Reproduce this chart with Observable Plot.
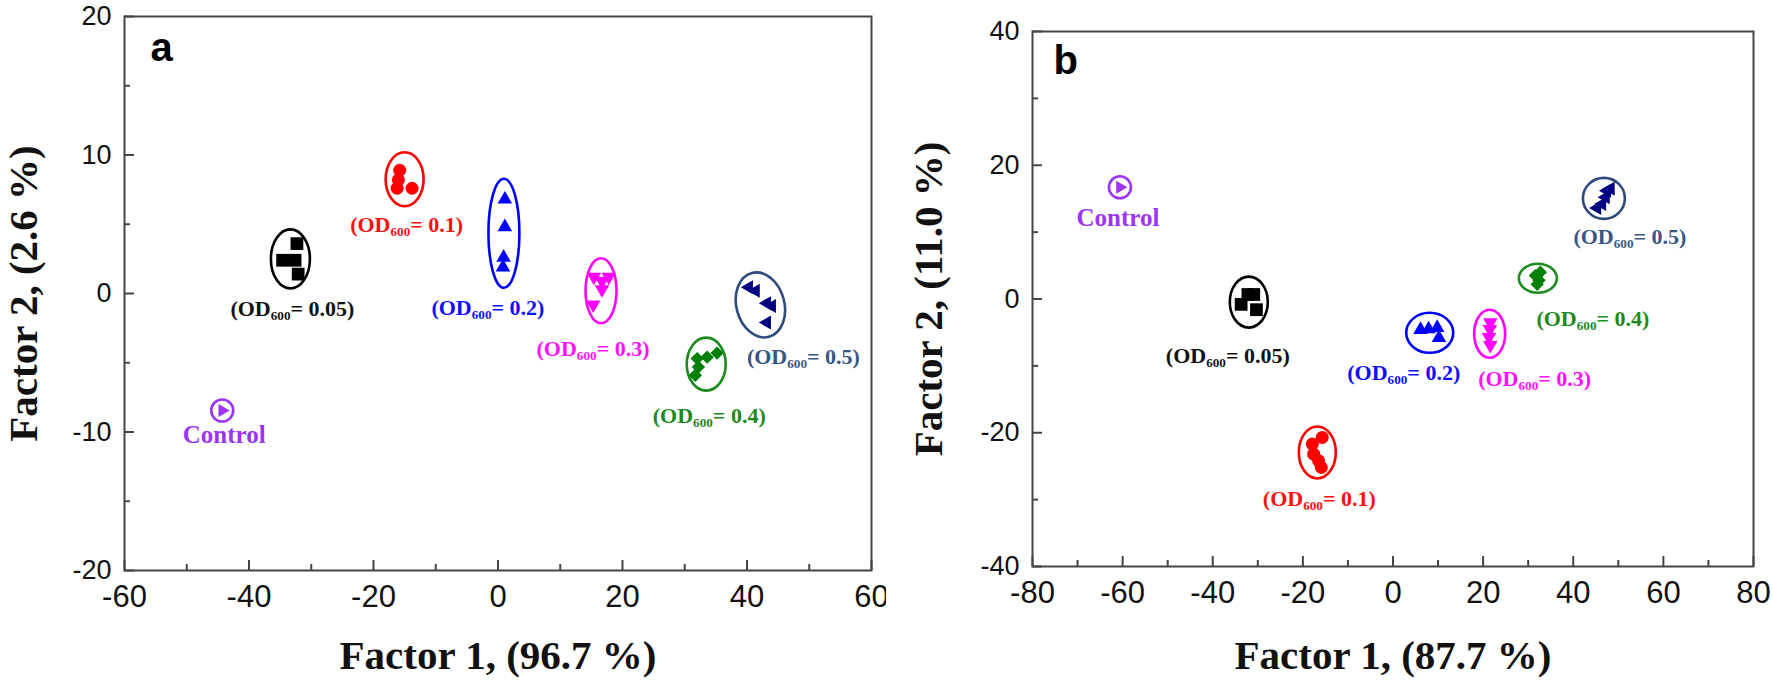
<!DOCTYPE html>
<html><head><meta charset="utf-8">
<script src="https://cdn.jsdelivr.net/npm/d3@7"></script>
<script src="https://cdn.jsdelivr.net/npm/@observablehq/plot@0.6"></script>
<style>
html,body{margin:0;padding:0;background:#fff;}
#wrap{display:flex;width:1772px;height:688px;overflow:hidden;}
#wrap svg{overflow:visible;background:#fff;}
</style></head><body><div id="wrap"></div>
<script>
// ---------- DATA ----------
const GROUPS = ["Control", "0.05", "0.1", "0.2", "0.3", "0.4", "0.5"];
const GROUP_LABELS = ["Control", "(OD₆₀₀= 0.05)", "(OD₆₀₀= 0.1)", "(OD₆₀₀= 0.2)", "(OD₆₀₀= 0.3)", "(OD₆₀₀= 0.4)", "(OD₆₀₀= 0.5)"];

// Panel a (Factor 1 96.7 %, Factor 2 2.6 %)
const A_CONTROL_F1 = [-44.3];
const A_CONTROL_F2 = [-8.45];
const A_OD005_F1 = [-32.3, -34.6, -32.6, -32.1];
const A_OD005_F2 = [3.6, 2.4, 2.4, 1.4];
const A_OD01_F1 = [-15.8, -16.0, -16.2, -13.8];
const A_OD01_F2 = [8.9, 8.2, 7.6, 7.6];
const A_OD02_F1 = [1.1, 1.1, 0.9, 0.8];
const A_OD02_F2 = [6.8, 4.8, 2.6, 1.9];
const A_OD03_F1 = [15.4, 16.7, 17.8, 16.7, 15.3];
const A_OD03_F2 = [1.2, 0.9, 1.2, 0.3, -0.8];
const A_OD04_F1 = [32.0, 33.6, 35.2, 32.2, 31.7];
const A_OD04_F2 = [-4.7, -4.6, -4.3, -5.3, -5.9];
const A_OD05_F1 = [40.3, 41.4, 43.2, 44.0, 43.2];
const A_OD05_F2 = [0.45, 0.2, -0.7, -0.9, -2.1];

// Panel b (Factor 1 87.7 %, Factor 2 11.0 %)
const B_CONTROL_F1 = [-60.6];
const B_CONTROL_F2 = [16.7];
const B_OD005_F1 = [-32.2, -30.9, -33.7, -30.3];
const B_OD005_F2 = [0.67, 0.67, -0.8, -1.6];
const B_OD01_F1 = [-15.7, -17.9, -17.6, -16.5, -15.9];
const B_OD01_F2 = [-20.7, -21.7, -23.2, -24.2, -25.2];
const B_OD02_F1 = [6.1, 7.9, 9.8, 10.2];
const B_OD02_F2 = [-4.6, -4.5, -4.3, -5.8];
const B_OD03_F1 = [21.6, 21.5, 21.3, 21.6];
const B_OD03_F2 = [-3.5, -4.5, -5.7, -6.9];
const B_OD04_F1 = [31.6, 32.4, 32.0, 32.7];
const B_OD04_F2 = [3.5, 2.8, 2.2, 4.0];
const B_OD05_F1 = [47.5, 47.2, 46.4, 45.3, 48.3];
const B_OD05_F2 = [16.2, 15.2, 14.2, 13.6, 16.5];

// Axis ticks
const A_X_TICKS = [-60, -40, -20, 0, 20, 40, 60];
const A_X_MINOR = [-50, -30, -10, 10, 30, 50];
const A_Y_TICKS = [-20, -10, 0, 10, 20];
const A_Y_MINOR = [-15, -5, 5, 15];
const B_X_TICKS = [-80, -60, -40, -20, 0, 20, 40, 60, 80];
const B_X_MINOR = [-70, -50, -30, -10, 10, 30, 50, 70];
const B_Y_TICKS = [-40, -20, 0, 20, 40];
const B_Y_MINOR = [-30, -10, 10, 30];

// ---------- STYLE ----------
const MARKER_COLORS = ["#9b35f7", "#000000", "#ff0000", "#0000ff", "#ff00ff", "#008000", "#000080"];
const RING_COLORS   = ["#9b35f7", "#000000", "#ff0000", "#0000ff", "#ff00ff", "#1c8a1c", "#2f4a7c"];
const LABEL_COLORS  = ["#9b35f7", "#111111", "#ff1010", "#1010ff", "#ff10ff", "#1c8a1c", "#3a5683"];

function triangle(angle) {
  return {draw(ctx, size) {
    const s = Math.sqrt(size * 4 / Math.sqrt(3)), R = s / Math.sqrt(3);
    for (let k = 0; k < 3; k++) {
      const a = angle + k * 2 * Math.PI / 3;
      const px = R * Math.cos(a), py = R * Math.sin(a);
      if (k) ctx.lineTo(px, py); else ctx.moveTo(px, py);
    }
    ctx.closePath();
  }};
}
function ring(rx, ry, deg) {
  const t = deg * Math.PI / 180, c = Math.cos(t), s = Math.sin(t), k = 0.5523;
  const P = (x, y) => [x * c - y * s, x * s + y * c];
  return {draw(ctx) {
    ctx.moveTo(...P(rx, 0));
    const segs = [
      [[rx, k * ry], [k * rx, ry], [0, ry]],
      [[-k * rx, ry], [-rx, k * ry], [-rx, 0]],
      [[-rx, -k * ry], [-k * rx, -ry], [0, -ry]],
      [[k * rx, -ry], [rx, -k * ry], [rx, 0]]
    ];
    for (const sg of segs) ctx.bezierCurveTo(...P(...sg[0]), ...P(...sg[1]), ...P(...sg[2]));
    ctx.closePath();
  }};
}
const SYMBOLS = [triangle(0), "square", "circle", triangle(-Math.PI / 2), triangle(Math.PI / 2), "diamond2", triangle(Math.PI)];
const SYMBOL_R = [4.8, 7.2, 6.5, 5.4, 5.4, 6, 5.2];

// ring [rx, ry, rotation] and label offsets [dx, dy] (pixels)
const A_RINGS = [[11, 11, 0], [19.5, 29.5, 0], [19, 27, 0], [15.5, 54.5, 0], [15.5, 32.5, 0], [19.5, 26.5, 0], [24, 33, -15]];
const A_LABEL_OFF = [[2, 24], [2, 50], [2, 46], [-16, 75], [-8, 58], [3, 52], [43, 52]];
const B_RINGS = [[11, 11, 0], [19, 25.5, 0], [18.5, 26, 0], [23.5, 20, 0], [15.5, 24, 0], [19, 14.5, 0], [21, 20.5, 0]];
const B_LABEL_OFF = [[-2, 31], [-21, 54], [2, 46], [-26, 40], [45, 45], [55, 41], [26, 39]];

const AXIS_COLOR = "#454545";
const SERIF = "'Liberation Serif', 'Times New Roman', serif";
const SANS = "'Liberation Sans', Arial, sans-serif";
const fmt = d => String(d);

function buildPanel(cfg) {
  const {f1, f2, rings, labelOff, xDomain, yDomain, xTicks, xMinor, yTicks, yMinor,
         width, height, ml, mr, mt, mb, xTitle, yTitle, letter, yTitleDx, xTitleDy, letterDx, letterDy} = cfg;
  const fw = width - ml - mr, fh = height - mt - mb;
  const marks = [
    Plot.frame({stroke: AXIS_COLOR, strokeWidth: 2}),
    Plot.tickX(xMinor, {x: d => d, insetTop: fh - 6, stroke: AXIS_COLOR, strokeWidth: 2}),
    Plot.tickX(xTicks, {x: d => d, insetTop: fh - 10, stroke: AXIS_COLOR, strokeWidth: 2}),
    Plot.tickY(yMinor, {y: d => d, insetRight: fw - 6, stroke: AXIS_COLOR, strokeWidth: 2}),
    Plot.tickY(yTicks, {y: d => d, insetRight: fw - 10, stroke: AXIS_COLOR, strokeWidth: 2}),
    Plot.axisX(xTicks, {anchor: "bottom", tickSize: 0, tickPadding: 14, tickFormat: fmt, fontSize: 31, fontFamily: SANS, fill: "#111", label: null}),
    Plot.axisY(yTicks, {anchor: "left", tickSize: 0, tickPadding: 13, tickFormat: fmt, fontSize: 27, fontFamily: SANS, fill: "#111", label: null}),
    Plot.text([xTitle], {frameAnchor: "bottom", dy: xTitleDy, fontSize: 41, fontFamily: SERIF, fontWeight: "bold", fill: "#111", textAnchor: "middle", lineAnchor: "middle"}),
    Plot.text([yTitle], {frameAnchor: "left", dx: yTitleDx, rotate: -90, fontSize: 41, fontFamily: SERIF, fontWeight: "bold", fill: "#111", textAnchor: "middle", lineAnchor: "middle"}),
    Plot.text([letter], {frameAnchor: "top-left", dx: letterDx, dy: letterDy, fontSize: 40, fontFamily: SANS, fontWeight: "bold", fill: "#000", textAnchor: "start", lineAnchor: "bottom"})
  ];
  GROUPS.forEach((g, i) => {
    const pts = f1[i].map((x, j) => ({x, y: f2[i][j]}));
    const cx = (d3.min(f1[i]) + d3.max(f1[i])) / 2, cy = (d3.min(f2[i]) + d3.max(f2[i])) / 2;
    const center = [{x: cx, y: cy}];
    const [rx, ry, rot] = rings[i];
    marks.push(Plot.dot(center, {x: "x", y: "y", symbol: ring(rx, ry, rot), fill: "none", stroke: RING_COLORS[i], strokeWidth: 2.6}));
    marks.push(Plot.dot(pts, {x: "x", y: "y", symbol: SYMBOLS[i], r: SYMBOL_R[i], fill: MARKER_COLORS[i], stroke: "none"}));
    marks.push(Plot.text([GROUP_LABELS[i]], {x: () => cx, y: () => cy, dx: labelOff[i][0], dy: labelOff[i][1],
      fontSize: i === 0 ? 25 : 22, fontFamily: SERIF, fontWeight: "bold", fill: LABEL_COLORS[i], textAnchor: "middle", lineAnchor: "middle"}));
  });
  return Plot.plot({
    width, height, marginLeft: ml, marginRight: mr, marginTop: mt, marginBottom: mb,
    x: {domain: xDomain, axis: null},
    y: {domain: yDomain, axis: null},
    style: {background: "#fff", overflow: "visible"},
    marks
  });
}

const wrap = document.getElementById("wrap");
wrap.appendChild(buildPanel({
  f1: [A_CONTROL_F1, A_OD005_F1, A_OD01_F1, A_OD02_F1, A_OD03_F1, A_OD04_F1, A_OD05_F1],
  f2: [A_CONTROL_F2, A_OD005_F2, A_OD01_F2, A_OD02_F2, A_OD03_F2, A_OD04_F2, A_OD05_F2],
  rings: A_RINGS, labelOff: A_LABEL_OFF,
  xDomain: [-60, 60], yDomain: [-20, 20],
  xTicks: A_X_TICKS, xMinor: A_X_MINOR, yTicks: A_Y_TICKS, yMinor: A_Y_MINOR,
  width: 886, height: 688, ml: 124, mr: 15, mt: 16, mb: 118,
  xTitle: "Factor 1, (96.7 %)", yTitle: "Factor 2, (2.6 %)", letter: "a",
  yTitleDx: -101, xTitleDy: 85, letterDx: 26, letterDy: 44
}));
wrap.appendChild(buildPanel({
  f1: [B_CONTROL_F1, B_OD005_F1, B_OD01_F1, B_OD02_F1, B_OD03_F1, B_OD04_F1, B_OD05_F1],
  f2: [B_CONTROL_F2, B_OD005_F2, B_OD01_F2, B_OD02_F2, B_OD03_F2, B_OD04_F2, B_OD05_F2],
  rings: B_RINGS, labelOff: B_LABEL_OFF,
  xDomain: [-80, 80], yDomain: [-40, 40],
  xTicks: B_X_TICKS, xMinor: B_X_MINOR, yTicks: B_Y_TICKS, yMinor: B_Y_MINOR,
  width: 886, height: 688, ml: 146, mr: 19, mt: 31, mb: 122,
  xTitle: "Factor 1, (87.7 %)", yTitle: "Factor 2, (11.0 %)", letter: "b",
  yTitleDx: -104, xTitleDy: 89, letterDx: 21, letterDy: 42
}));
</script>
</body></html>
